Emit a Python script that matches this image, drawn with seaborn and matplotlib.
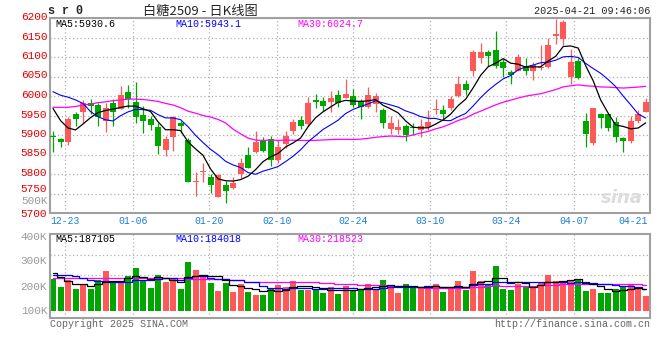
import numpy as np
import pandas as pd
import matplotlib
matplotlib.use("Agg")
import matplotlib.pyplot as plt
import matplotlib.transforms as mtransforms
import seaborn as sns

sns.set_style("white")
plt.rcParams["font.family"] = ["Liberation Mono", "DejaVu Sans Mono"]

# K线数据
opens = [5896, 5891, 5881, 5954, 5958, 5982, 5977, 5937, 5982, 5966,
         6010, 5985, 5952, 5942, 5920, 5861, 5894, 5930, 5888, 5780,
         5805, 5793, 5742, 5771, 5763, 5799, 5850, 5857, 5884, 5891,
         5837, 5876, 5909, 5939, 5929, 5990, 5987, 5985, 6003, 5994,
         5999, 5988, 5971, 5980, 5964, 5916, 5913, 5924, 5920, 5914,
         5921, 5964, 5965, 5970, 5999, 6031, 6065, 6097, 6113, 6117,
         6086, 6062, 6065, 6075, 6065, 6072, 6075, 6154, 6147, 6050,
         6090, 5935, 5879, 5953, 5953, 5933, 5892, 5885, 5936, 5959]
highs = [5909, 5893, 5946, 5960, 5990, 5992, 5981, 5981, 5992, 6025,
         6028, 6036, 5975, 5948, 5931, 5897, 5948, 5937, 5893, 5806,
         5827, 5799, 5799, 5781, 5793, 5840, 5870, 5909, 5894, 5898,
         5886, 5909, 5942, 5948, 5998, 6005, 5998, 6013, 6015, 6044,
         6019, 5992, 6023, 6007, 5968, 5948, 5940, 5927, 5930, 5940,
         5964, 5993, 5976, 5999, 6052, 6042, 6118, 6135, 6118, 6166,
         6095, 6067, 6108, 6097, 6086, 6130, 6150, 6198, 6195, 6120,
         6098, 5957, 5970, 5957, 5957, 5946, 5896, 5948, 5965, 5995]
lows = [5856, 5869, 5874, 5922, 5931, 5954, 5922, 5908, 5922, 5966,
        5969, 5931, 5905, 5912, 5852, 5846, 5859, 5905, 5780, 5743,
        5780, 5751, 5740, 5725, 5761, 5789, 5815, 5853, 5856, 5820,
        5827, 5867, 5903, 5915, 5924, 5968, 5962, 5958, 5973, 5994,
        5972, 5942, 5970, 5959, 5919, 5903, 5902, 5885, 5900, 5895,
        5913, 5953, 5939, 5963, 5997, 6003, 6052, 6084, 6078, 6073,
        6050, 6031, 6065, 6054, 6042, 6067, 6073, 6133, 6132, 6031,
        6044, 5868, 5875, 5919, 5909, 5881, 5857, 5880, 5931, 5959]
closes = [5894, 5881, 5942, 5942, 5982, 5975, 5946, 5969, 5960, 6003,
          5993, 5945, 5935, 5925, 5871, 5891, 5946, 5924, 5780, 5781,
          5808, 5771, 5797, 5757, 5776, 5827, 5815, 5881, 5860, 5837,
          5870, 5898, 5934, 5922, 5982, 5985, 5975, 5996, 5982, 6006,
          5976, 5971, 6003, 5999, 5931, 5931, 5920, 5900, 5918, 5922,
          5933, 5967, 5953, 5993, 6031, 6015, 6113, 6113, 6103, 6077,
          6073, 6055, 6100, 6065, 6080, 6074, 6130, 6160, 6190, 6088,
          6047, 5902, 5968, 5943, 5919, 5895, 5885, 5937, 5954, 5985]
volumes = [227000, 196000, 224000, 188000, 204000, 188000, 224000, 260000, 215000, 211000,
           240000, 272000, 224000, 192000, 244000, 216000, 232000, 188000, 296000, 264000,
           236000, 212000, 180000, 212000, 176000, 208000, 176000, 164000, 164000, 192000,
           204000, 196000, 220000, 184000, 184000, 184000, 172000, 196000, 168000, 200000,
           184000, 188000, 208000, 188000, 224000, 196000, 172000, 208000, 192000, 196000,
           196000, 208000, 176000, 192000, 220000, 184000, 260000, 220000, 204000, 280000,
           188000, 184000, 208000, 200000, 196000, 216000, 244000, 220000, 216000, 220000,
           224000, 180000, 188000, 172000, 172000, 188000, 196000, 208000, 188000, 160000]

# 均线起始段 (窗口之前的数值, 读自原图)
ma5_head = [5968, 5937, 5918, 5913]
ma10_head = [6011, 6002, 5997, 5990, 5981, 5960, 5947, 5939, 5936]
ma30_head = [5971, 5971, 5971, 5973, 5977, 5979, 5983, 5985, 5988, 5990,
             5992, 5992, 5991, 5989, 5986, 5981, 5977, 5970, 5961, 5956,
             5950, 5946, 5940, 5931, 5915, 5903, 5892, 5887, 5886]
vma5_head = [250000, 235000, 218000, 208000]
vma10_head = [243000, 243000, 241000, 240000, 230000, 224000, 220000, 217000, 215000]
vma30_head = [231000] * 8 + [230000] * 4 + [229000] * 6 + [228000] * 3 + \
             [225000] * 3 + [221000] * 2 + [216000] * 3

date_labels = ["12-23", "01-06", "01-20", "02-10", "02-24", "03-10", "03-24", "04-07"]
date_pos = [1.6, 10.7, 20.8, 29.8, 40.0, 50.2, 60.4, 69.5]
price_ticks = list(range(5700, 6201, 50))
vol_ticks = [100000, 200000, 300000, 400000]
vol_tick_labels = ["100K", "200K", "300K", "400K"]

RED = "#ff5858"
GREEN = "#00a600"
GRID = "#b0b0b0"

df = pd.DataFrame({"open": opens, "high": highs, "low": lows,
                   "close": closes, "vol": volumes})
df["x"] = np.arange(len(df))
df["color"] = np.where(df["close"] >= df["open"], RED, GREEN)


def moving_avg(s, window, head):
    m = s.rolling(window).mean()
    m.iloc[:len(head)] = head
    return m


df["ma5"] = moving_avg(df["close"], 5, ma5_head)
df["ma10"] = moving_avg(df["close"], 10, ma10_head)
df["ma30"] = moving_avg(df["close"], 30, ma30_head)
df["vma5"] = moving_avg(df["vol"], 5, vma5_head)
df["vma10"] = moving_avg(df["vol"], 10, vma10_head)
df["vma30"] = moving_avg(df["vol"], 30, vma30_head)

W, H = 660, 360
fig = plt.figure(figsize=(W / 100, H / 100), dpi=100)


def box(l, t, r, b):
    return [l / W, 1 - b / H, (r - l) / W, (b - t) / H]


def fxy(px, py):
    return px / W, 1 - py / H


ax = fig.add_axes(box(50, 18, 650, 213))
axv = fig.add_axes(box(50, 234, 650, 318))

# 价格面板
ax.vlines(df["x"], df["low"], df["high"], colors=df["color"], lw=0.9, zorder=2)
body_lo = np.minimum(df["open"], df["close"])
body_h = np.maximum(np.abs(df["close"] - df["open"]), 2.5)
ax.bar(df["x"], body_h, bottom=body_lo, width=0.8, color=df["color"], lw=0, zorder=3)
sns.lineplot(data=df, x="x", y="ma30", ax=ax, color="#ff00ff", lw=0.9, zorder=4)
sns.lineplot(data=df, x="x", y="ma10", ax=ax, color="#0000ff", lw=0.8, zorder=4)
sns.lineplot(data=df, x="x", y="ma5", ax=ax, color="black", lw=0.9, zorder=4)

# 成交量面板
axv.bar(df["x"], df["vol"] - 100000, bottom=100000, width=0.8,
        color=df["color"], lw=0, zorder=2)
sns.lineplot(data=df, x="x", y="vma30", ax=axv, color="#ff00ff", lw=0.9,
             drawstyle="steps-mid", zorder=4)
sns.lineplot(data=df, x="x", y="vma10", ax=axv, color="#0000ff", lw=0.9,
             drawstyle="steps-mid", zorder=4)
sns.lineplot(data=df, x="x", y="vma5", ax=axv, color="black", lw=0.9,
             drawstyle="steps-mid", zorder=4)

for a in (ax, axv):
    a.set_xlim(-0.4, len(df) - 0.43)
    a.set_xlabel("")
    a.set_ylabel("")
    a.set_xticks(date_pos)
    a.grid(axis="x", ls=(0, (1, 2)), color=GRID, lw=0.9)
    for sp in a.spines.values():
        sp.set_color("#a0a0a0")
        sp.set_linewidth(1.5)
    a.tick_params(length=0)

ax.set_ylim(5700, 6200)
ax.set_yticks(price_ticks)
ax.set_yticklabels([str(v) for v in price_ticks], color="#e60000", fontsize=8)
ax.grid(axis="y", ls=(0, (1, 2)), color=GRID, lw=0.9)
ax.set_xticklabels(date_labels, color="#1a7fd6", fontsize=7)
ax.tick_params(axis="x", pad=2)
ax.tick_params(axis="y", pad=2)

# 价格刻度文字略高于网格线, 5750 再上移以让出 500K
for lab, v in zip(ax.get_yticklabels(), price_ticks):
    dy = 0 if v == 5700 else (6 if v == 5750 else 2)
    lab.set_transform(lab.get_transform() +
                      mtransforms.ScaledTranslation(0, dy / 100, fig.dpi_scale_trans))

axv.set_ylim(70000, 406000)
axv.set_yticks(vol_ticks)
axv.set_yticklabels(vol_tick_labels, color="#9a9a9a", fontsize=8)
axv.tick_params(axis="y", pad=2)
axv.set_xticklabels([])
for gy in (324000, 244000):
    axv.axhline(gy, ls=(0, (1, 2)), color=GRID, lw=0.9, zorder=1)

# 文字
mono = ["Liberation Mono", "DejaVu Sans Mono"]
fig.text(*fxy(48, 11), "s r 0", fontsize=8.5, weight="bold", va="center", family=mono)
fig.text(*fxy(200, 11), "白糖2509 - 日K线图", fontsize=9.5, ha="center", va="center",
         family=["Noto Sans CJK SC", "DejaVu Sans"])
fig.text(*fxy(650, 11), "2025-04-21 09:46:06", fontsize=7.3, ha="right", va="center")
fig.text(*fxy(648, 221), "04-21", fontsize=7, ha="right", va="center", color="#1a7fd6")

fig.text(*fxy(55, 24), "MA5:5930.6", fontsize=7.2, va="center", color="black")
fig.text(*fxy(175, 24), "MA10:5943.1", fontsize=7.2, va="center", color="#0000ff")
fig.text(*fxy(297, 24), "MA30:6024.7", fontsize=7.2, va="center", color="#ff00ff")
fig.text(*fxy(55, 239), "MA5:187105", fontsize=7.2, va="center", color="black")
fig.text(*fxy(175, 239), "MA10:184018", fontsize=7.2, va="center", color="#0000ff")
fig.text(*fxy(297, 239), "MA30:218523", fontsize=7.2, va="center", color="#ff00ff")

fig.text(*fxy(48, 201), "500K", fontsize=8, ha="right", va="center", color="#9a9a9a")
fig.text(*fxy(50, 324), "Copyright 2025 SINA.COM", fontsize=7.2, va="center", color="#666666")
fig.text(*fxy(650, 324), "http://finance.sina.com.cn", fontsize=7.2, ha="right",
         va="center", color="#666666")
fig.text(*fxy(622, 198), "sina", fontsize=13, ha="center", va="center", color="#dcdcdc",
         weight="bold", style="italic", family=["DejaVu Sans"])

fig.savefig("out.png", dpi=100)
